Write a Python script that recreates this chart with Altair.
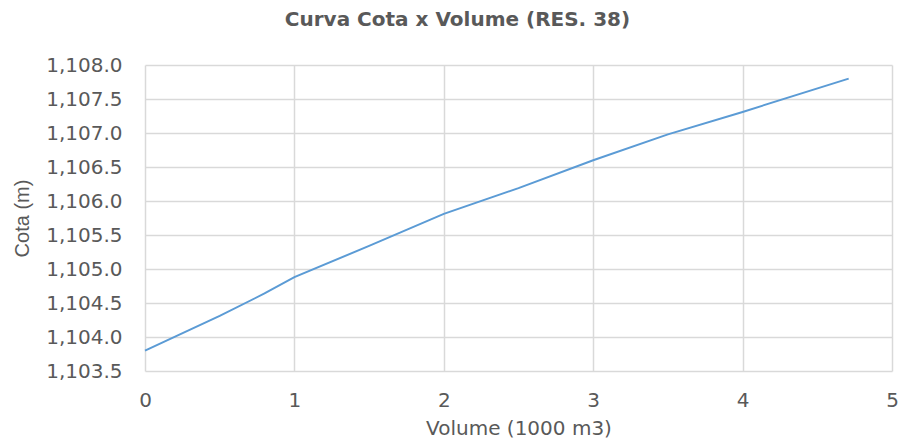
import altair as alt
import pandas as pd

volume = [0.0, 0.5, 0.8, 1.0, 1.5, 2.0, 2.5, 3.0, 3.5, 4.0, 4.71]
cota = [1103.80, 1104.31, 1104.64, 1104.88, 1105.34, 1105.81, 1106.19, 1106.60, 1106.98, 1107.31, 1107.80]
x_ticks = [0, 1, 2, 3, 4, 5]
y_ticks = [1103.5, 1104.0, 1104.5, 1105.0, 1105.5, 1106.0, 1106.5, 1107.0, 1107.5, 1108.0]

df = pd.DataFrame({"Volume": volume, "Cota": cota})

WIDE = "DejaVu Sans"
NARROW = "Liberation Sans"
GRAY = "#595959"

line = alt.Chart(df).mark_line(color="#5B9BD5", strokeWidth=2).encode(
    x=alt.X(
        "Volume:Q",
        scale=alt.Scale(domain=[0, 5], nice=False, zero=False),
        axis=alt.Axis(
            title="Volume (1000 m3)",
            values=x_ticks,
            format="d",
            grid=True,
            gridColor="#D9D9D9",
            gridWidth=1.5,
            domain=False,
            ticks=False,
            labelFlush=False,
            labelPadding=19,
            titlePadding=8,
            labelFont=WIDE,
            titleFont=WIDE,
        ),
    ),
    y=alt.Y(
        "Cota:Q",
        scale=alt.Scale(domain=[1103.5, 1108.0], nice=False, zero=False),
        axis=alt.Axis(
            title="Cota (m)",
            values=y_ticks,
            format=",.1f",
            grid=True,
            gridColor="#D9D9D9",
            gridWidth=1.5,
            domain=False,
            ticks=False,
            labelPadding=23,
            titlePadding=13,
            labelFont=WIDE,
            titleFont=NARROW,
        ),
    ),
)

chart = (
    line
    .properties(
        width=747,
        height=306,
        padding={"left": 137, "top": 57, "right": 7, "bottom": 76},
        autosize=alt.AutoSizeParams(type="none"),
        title=alt.TitleParams(
            text="Curva Cota x Volume (RES. 38)",
            font=WIDE,
            fontSize=20,
            fontWeight="bold",
            color=GRAY,
            anchor="middle",
            frame="group",
            dx=-61,
            offset=25,
        ),
    )
    .configure_view(stroke=None)
    .configure_axis(
        labelFontSize=20,
        titleFontSize=20,
        labelColor=GRAY,
        titleColor=GRAY,
        titleFontWeight="normal",
    )
)

chart.save("out.html", embed_options={"renderer": "svg", "actions": False})
